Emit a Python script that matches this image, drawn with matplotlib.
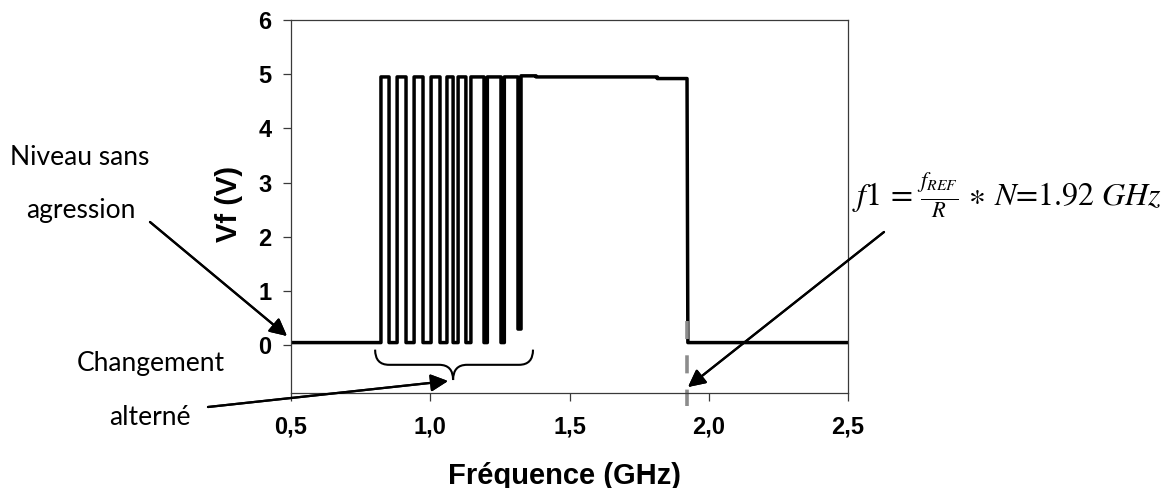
import numpy as np
import matplotlib.pyplot as plt
from matplotlib.path import Path
from matplotlib.patches import PathPatch

# trace Vf(f): step vertices
freq = [0.500, 0.823, 0.823, 0.852, 0.852, 0.881, 0.881, 0.913, 0.913, 0.942,
        0.942, 0.974, 0.974, 1.003, 1.003, 1.035, 1.035, 1.060, 1.060, 1.082,
        1.082, 1.100, 1.100, 1.128, 1.128, 1.146, 1.146, 1.193, 1.193, 1.205,
        1.205, 1.254, 1.254, 1.266, 1.266, 1.315, 1.315, 1.326, 1.326, 1.380,
        1.380, 1.815, 1.815, 1.922, 1.925, 2.500]
vf = [0.05, 0.05, 4.95, 4.95, 0.05, 0.05, 4.95, 4.95, 0.05, 0.05,
      4.95, 4.95, 0.05, 0.05, 4.95, 4.95, 0.05, 0.05, 4.95, 4.95,
      0.05, 0.05, 4.95, 4.95, 0.05, 0.05, 4.95, 4.95, 0.05, 0.05,
      4.95, 4.95, 0.05, 0.05, 4.95, 4.95, 0.30, 0.30, 4.97, 4.97,
      4.95, 4.95, 4.92, 4.92, 0.05, 0.05]

f1 = 1.922
xticks = [0.5, 1.0, 1.5, 2.0, 2.5]
xlabels = ['0,5', '1,0', '1,5', '2,0', '2,5']
yticks = [0, 1, 2, 3, 4, 5, 6]

plt.rcParams['mathtext.fontset'] = 'stix'

W, H = 1168, 488
fig = plt.figure(figsize=(W / 100, H / 100), dpi=100)
ax = fig.add_axes([291 / W, 1 - 393 / H, (848 - 291) / W, (393 - 20) / H])

ax.plot(freq, vf, color='black', lw=2.5, solid_joinstyle='round', solid_capstyle='round')
ax.plot([f1, f1], [0.44, -1.12], color='#8c8c8c', lw=2.6, ls=(0, (5, 4.5)), clip_on=False)

ax.set_xlim(0.5, 2.5)
ax.set_ylim(-0.88, 6)
ax.set_xticks(xticks)
ax.set_xticklabels(xlabels)
ax.set_yticks(yticks)
for s in ax.spines.values():
    s.set_color('#3a3a3a')
    s.set_linewidth(0.9)
ax.tick_params(axis='both', direction='out', length=6, width=0.9, color='#3a3a3a')
ax.tick_params(axis='x', pad=10)
ax.tick_params(axis='y', pad=8)
for lab in ax.get_xticklabels() + ax.get_yticklabels():
    lab.set_fontfamily('Liberation Sans')
    lab.set_fontweight('bold')
    lab.set_fontsize(17)

fig.text(565 / W, 1 - 484 / H, 'Fréquence (GHz)', family='Liberation Sans', weight='bold',
         fontsize=21, ha='center', va='baseline')
fig.text(229 / W, 1 - 204 / H, 'Vf (V)', family='Liberation Sans', weight='bold',
         fontsize=21, ha='center', va='center', rotation=90)


def px(x, y):
    return (x / W, 1 - y / H)


# curly brace under the alternating part
x0, x1, xm = 0.802, 1.369, 1.082
yt, ym, yb = -0.08, -0.36, -0.64
r = 0.05
verts = [(x0, yt), (x0, ym), (x0 + r, ym), (xm - r, ym), (xm, ym), (xm, yb),
         (xm, ym), (xm + r, ym), (x1 - r, ym), (x1, ym), (x1, yt)]
codes = [Path.MOVETO, Path.CURVE3, Path.CURVE3, Path.LINETO, Path.CURVE3, Path.CURVE3,
         Path.CURVE3, Path.CURVE3, Path.LINETO, Path.CURVE3, Path.CURVE3]
ax.add_patch(PathPatch(Path(verts, codes), fill=False, lw=1.5, color='black', clip_on=False))

txt = dict(family='Lato', fontsize=19, ha='center', va='baseline')
fig.text(*px(80, 165), 'Niveau sans', **txt)
fig.text(*px(81, 218), 'agression', **txt)
fig.text(*px(151, 371), 'Changement', **txt)
fig.text(*px(150, 425), 'alterné', **txt)

fig.text(*px(852, 206), r'$f1\,=\,\frac{f_{REF}}{R}\,\ast\,N$=1.92 $GHz$', family='STIXGeneral',
         fontsize=23, ha='left', va='baseline')

arrow = dict(arrowstyle='-|>', mutation_scale=26, lw=1.6, color='black', shrinkA=0, shrinkB=0)
for start, end in [((150, 222), (287, 336)), ((208, 407), (448, 381)), ((884, 232), (688, 387))]:
    fig.add_artist(plt.annotate('', xy=px(*end), xycoords='figure fraction',
                                xytext=px(*start), textcoords='figure fraction',
                                arrowprops=arrow))

fig.savefig('out.png', dpi=100)
